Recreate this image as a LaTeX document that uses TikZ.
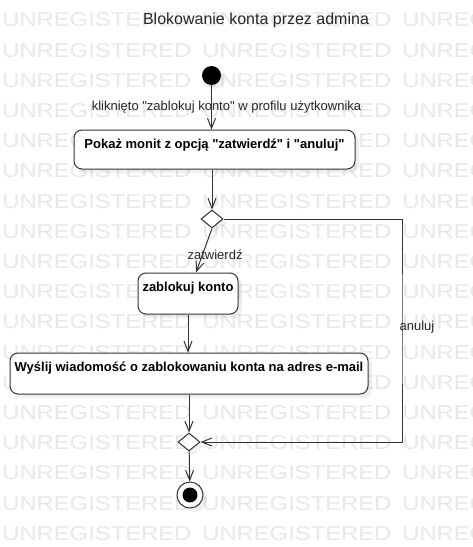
\documentclass[tikz,border=0pt]{standalone}
\usepackage{fontspec}
\setmainfont{Liberation Sans}[Ligatures=TeXReset]
\usetikzlibrary{arrows.meta,shapes.geometric,shadows}
\tikzset{
	act/.style={draw=black!80, line width=0.75pt, rounded corners=6pt, fill=white, font=\bfseries\fontsize{9.75}{11}\selectfont, inner xsep=0pt, inner ysep=3.75pt, text height=9.9pt, text depth=13.35pt, drop shadow={shadow xshift=3pt, shadow yshift=-3pt, opacity=0.12}},
	decision/.style={diamond, draw=black!80, line width=0.75pt, fill=white, inner sep=0pt, minimum width=16.5pt, minimum height=13.5pt, drop shadow={shadow xshift=3pt, shadow yshift=-3pt, opacity=0.12}},
	startnode/.style={circle, fill=black, minimum size=14.25pt, inner sep=0pt, drop shadow={shadow xshift=3pt, shadow yshift=-3pt, opacity=0.12}},
	endnode/.style={circle, draw=black!80, line width=0.75pt, fill=white, minimum size=19.5pt, inner sep=0pt, drop shadow={shadow xshift=3pt, shadow yshift=-3pt, opacity=0.12}, path picture={\fill[black] (path picture bounding box.center) circle (5.6pt);}},
	flow/.style={draw=black!80, line width=0.75pt, -{Straight Barb[length=7.5pt,width=6pt]}},
	lbl/.style={font=\fontsize{9.75}{11}\selectfont, text=black!85, inner sep=1pt},
	wmark/.style={text=black!9, font=\fontsize{15}{15}\selectfont, anchor=west, inner sep=0pt, xscale=1.19, transform shape}
}
\begin{document}
\begin{tikzpicture}[x=0.75pt, y=-0.75pt]
	%%%%% START %%%%%
	\useasboundingbox (0,0) rectangle (473,547);
	\fill[white] (0,0) rectangle (473,547);
	
	\begin{scope}
		\clip (0,0) rectangle (473,547);
		\foreach \r in {0,...,17}{
			\foreach \c in {0,1,2}{
				\node[wmark] (wm-\r-\c) at ({2+200*\c}, {20+30.2*\r}) {UNREGISTERED};
			}
		}
	\end{scope}
	
	\node[font=\fontsize{12}{14}\selectfont, text=black!85] (title) at (256,20) {Blokowanie konta przez admina};
	
	\node[startnode] (start) at (211.5,75.5) {};
	\node[act, minimum width=210.75pt, text depth=11.85pt] (pokaz) at (214.5,149.5) {Pokaż monit z opcją "zatwierdź" i "anuluj"};
	\node[decision] (dec1) at (212,219) {};
	\node[act, minimum width=75pt] (blokuj) at (188,293.5) {zablokuj konto};
	\node[act, minimum width=268.5pt] (wyslij) at (189,373.5) {Wyślij wiadomość o zablokowaniu konta na adres e-mail};
	\node[decision] (dec2) at (189,442) {};
	\node[endnode] (end) at (190,495) {};
	\coordinate (rt) at (402,327);
	
	\draw[flow] (start) -- (start |- pokaz.north) node[lbl, midway, xshift=11.25pt] (klik) {kliknięto "zablokuj konto" w profilu użytkownika};
	\draw[flow] (dec1 |- pokaz.south) -- (dec1);
	\draw[flow] (dec1.south) -- ([xshift=6pt]blokuj.north) node[lbl, pos=0.6, xshift=9.5pt] (zatw) {zatwierdź};
	\draw[flow] (dec1.east) -| (rt) |- (dec2.east);
	\node[lbl, anchor=west] (anuluj) at ([xshift=-3pt]rt) {anuluj};
	\draw[flow] (blokuj) -- (blokuj |- wyslij.north);
	\draw[flow] (dec2 |- wyslij.south) -- (dec2);
	\draw[flow] (dec2) -- (end);
	%%%%% END %%%%%
\end{tikzpicture}
\end{document}
